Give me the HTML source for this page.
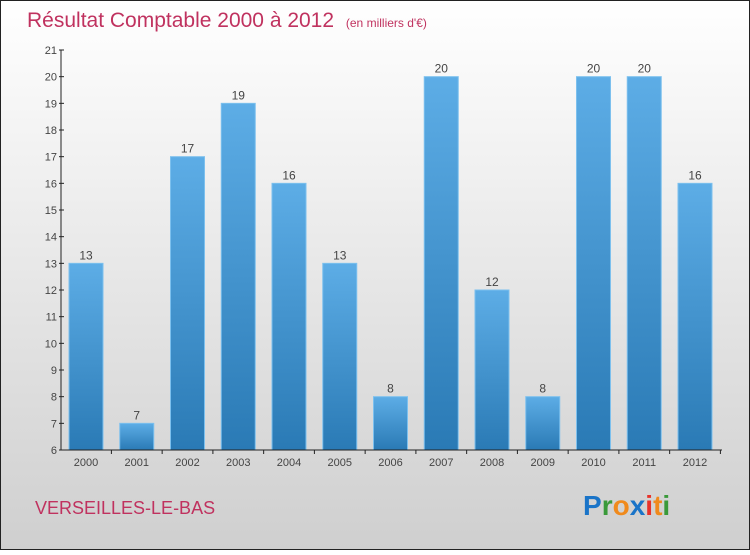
<!DOCTYPE html>
<html><head><meta charset="utf-8"><style>
body{margin:0;width:750px;height:550px;overflow:hidden;font-family:"Liberation Sans",sans-serif}
</style></head><body>
<svg id="c" width="750" height="550" xmlns="http://www.w3.org/2000/svg">
<defs>
<linearGradient id="bg" x1="0" y1="0" x2="0" y2="1"><stop offset="0" stop-color="#ffffff"/><stop offset="1" stop-color="#cfcfcf"/></linearGradient>
<linearGradient id="bar" x1="0" y1="0" x2="0" y2="1"><stop offset="0" stop-color="#5dade6"/><stop offset="1" stop-color="#2a7ab5"/></linearGradient>
</defs>
<rect x="0.5" y="0.5" width="749" height="549" fill="url(#bg)" stroke="#222"/>
<text x="27" y="27" font-size="21" fill="#c0325f">Résultat Comptable 2000 à 2012 <tspan font-size="12" dx="6">(en milliers d'€)</tspan></text>
<text x="35" y="514" font-size="18" fill="#c0325f">VERSEILLES-LE-BAS</text>
<g font-size="28" font-weight="bold" font-family="Liberation Sans,sans-serif">
<text x="583" y="515"><tspan fill="#1a74c8">P</tspan><tspan fill="#3a9a3a">r</tspan><tspan fill="#f08a1c">o</tspan><tspan fill="#1a74c8">x</tspan><tspan fill="#e8322a">i</tspan><tspan fill="#f08a1c">t</tspan><tspan fill="#3a9a3a">i</tspan></text>
</g>
<g id="plot"></g>
</svg>
<script>
const categories=["2000","2001","2002","2003","2004","2005","2006","2007","2008","2009","2010","2011","2012"];
const values=[13,7,17,19,16,13,8,20,12,8,20,20,16];
const yTicks=[6,7,8,9,10,11,12,13,14,15,16,17,18,19,20,21];
const NS="http://www.w3.org/2000/svg";
const g=document.getElementById('plot');
const y=v=>450-(v-6)*400/15;
const x=i=>86+i*50.75;
function mk(t,a){const e=document.createElementNS(NS,t);for(const k in a)e.setAttribute(k,a[k]);g.appendChild(e);return e;}
values.forEach((v,i)=>{
 const r=mk('rect',{x:x(i)-17,y:y(v),width:34,height:450-y(v),fill:'url(#bar)',stroke:'#7cc0ee','stroke-width':1});
 
 
 const t=mk('text',{x:x(i),y:y(v)-4,'text-anchor':'middle','font-size':12,fill:'#444'});
 t.textContent=v;
 
 
 const c=mk('text',{x:x(i),y:466,'text-anchor':'middle','font-size':11,fill:'#444'});
 c.textContent=categories[i];
 
 
 mk('line',{x1:x(i)+25.4,y1:450,x2:x(i)+25.4,y2:454,stroke:'#222'});
});
yTicks.forEach(v=>{
 mk('line',{x1:59,y1:y(v),x2:64,y2:y(v),stroke:'#222'});
 const t=mk('text',{x:57,y:y(v)+4,'text-anchor':'end','font-size':11,fill:'#444'});
 t.textContent=v;
 
 
});
const ya=mk('line',{x1:61,y1:y(21),x2:61,y2:450,stroke:'#222'});


const xa=mk('line',{x1:61,y1:450,x2:722,y2:450,stroke:'#222'});


</script>
</body></html>
